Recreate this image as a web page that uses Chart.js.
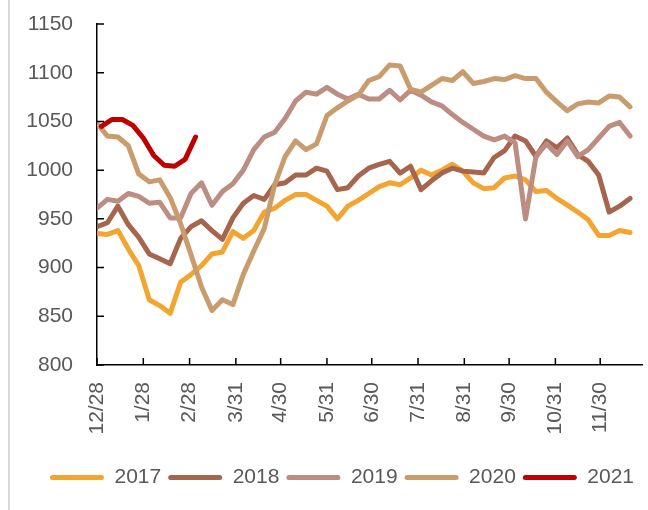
<!DOCTYPE html>
<html>
<head>
<meta charset="utf-8">
<script src="https://cdn.jsdelivr.net/npm/chart.js@4.4.1/dist/chart.umd.min.js"></script>
<style>
  html, body { margin: 0; padding: 0; background: #fff; }
  #wrap { position: relative; width: 648px; height: 510px; }
  #edge { position: absolute; left: 8px; top: 0; width: 2px; height: 510px; background: #d9d9d9; }
  canvas { position: absolute; left: 0; top: 0; }
</style>
</head>
<body>
<div id="wrap"><div id="edge"></div><canvas id="c" width="648" height="510"></canvas></div>
<script>
const years  = ["2017", "2018", "2019", "2020", "2021"];
const colors = ["#f2a530", "#a6654d", "#bc8d82", "#c99c6e", "#c00000"];
// first day of each year's weekly series, counted from 12/28
const startDay = [0, 0, 0, 0, 3];

// x axis: days from 12/28 and their labels
const tickDays   = [0, 31, 62, 93, 123, 154, 184, 215, 246, 276, 307, 337];
const tickLabels = ["12/28", "1/28", "2/28", "3/31", "4/30", "5/31", "6/30", "7/31", "8/31", "9/30", "10/31", "11/30"];

const s2017 = [935, 934, 938, 919, 902, 867, 861, 853, 885, 893,
               902, 914, 916, 937, 930, 938, 957, 961, 969, 975,
               975, 969, 963, 950, 963, 969, 976, 983, 987, 985,
               992, 1000, 995, 1000, 1006, 999, 987, 981, 982, 992,
               994, 990, 978, 979, 971, 964, 957, 949, 933, 933,
               938, 936];
const s2018 = [942, 946, 963, 944, 931, 914, 909, 904, 930, 942,
               948, 938, 929, 951, 966, 974, 970, 985, 987, 995,
               995, 1002, 999, 980, 982, 994, 1002, 1006, 1009, 997,
               1004, 980, 989, 997, 1002, 999, 998, 997, 1013, 1020,
               1035, 1030, 1014, 1030, 1023, 1033, 1016, 1009, 995, 957,
               963, 971];
const s2019 = [961, 970, 968, 976, 973, 966, 967, 951, 951, 976,
               987, 964, 978, 986, 1000, 1021, 1034, 1039, 1053, 1071,
               1080, 1078, 1085, 1078, 1073, 1078, 1073, 1073, 1082, 1072,
               1082, 1077, 1070, 1066, 1057, 1049, 1042, 1035, 1031, 1035,
               1028, 950, 1014, 1027, 1016, 1030, 1014, 1021, 1033, 1045,
               1049, 1035];
const s2020 = [1048, 1035, 1034, 1025, 996, 988, 990, 972, 945, 913,
               880, 856, 867, 862, 893, 917, 940, 985, 1014, 1030,
               1021, 1027, 1056, 1064, 1071, 1077, 1092, 1096, 1108, 1107,
               1083, 1080, 1087, 1094, 1092, 1101, 1089, 1091, 1094, 1093,
               1097, 1094, 1094, 1080, 1070, 1061, 1068, 1070, 1069, 1076,
               1075, 1065];
const s2021 = [1045, 1052, 1052, 1046, 1033, 1015, 1005, 1004, 1011, 1034];

const series = [s2017, s2018, s2019, s2020, s2021];

Chart.defaults.font.family = "'Liberation Sans', Arial, sans-serif";
Chart.defaults.font.size = 21;
Chart.defaults.color = "#595959";

// Excel-style tick marks pointing into the plot
const innerTicks = {
  id: "innerTicks",
  afterDraw(chart) {
    const { ctx, chartArea: a, scales: { x, y } } = chart;
    ctx.save();
    ctx.strokeStyle = "#000";
    ctx.lineWidth = 1.5;
    ctx.beginPath();
    tickDays.forEach(d => {
      const px = x.getPixelForValue(d);
      ctx.moveTo(px, a.bottom);
      ctx.lineTo(px, a.bottom - 7);
    });
    y.ticks.forEach(t => {
      const py = y.getPixelForValue(t.value);
      ctx.moveTo(a.left, py);
      ctx.lineTo(a.left + 7, py);
    });
    ctx.stroke();
    ctx.restore();
  }
};

// legend in the reference sits a bit right of the canvas centre
const shiftLegend = {
  id: "shiftLegend",
  afterLayout(chart) {
    chart.legend.left += 10;
    chart.legend.right += 10;
  }
};

new Chart(document.getElementById("c"), {
  type: "line",
  data: {
    datasets: years.map((yr, k) => ({
      label: yr,
      data: series[k].map((v, i) => ({ x: startDay[k] + i * 7, y: v })),
      borderColor: colors[k],
      backgroundColor: colors[k],
      borderWidth: 5,
      borderJoinStyle: "round",
      borderCapStyle: "round",
      pointRadius: 0,
      tension: 0,
      order: years.length - k
    }))
  },
  options: {
    responsive: false,
    animation: false,
    layout: { padding: { left: 22, right: 6, top: 24, bottom: 12 } },
    plugins: {
      tooltip: { enabled: false },
      legend: {
        position: "bottom",
        labels: {
          boxWidth: 54,
          boxHeight: 5,
          useBorderRadius: true,
          borderRadius: 2.5,
          padding: 7,
          sort: (a, b) => a.datasetIndex - b.datasetIndex,
          generateLabels(chart) {
            return Chart.defaults.plugins.legend.labels.generateLabels(chart)
              .map(l => ({ ...l, fillStyle: l.strokeStyle, lineWidth: 0 }));
          }
        }
      }
    },
    scales: {
      x: {
        type: "linear",
        min: 0,
        max: 365,
        grid: { display: false, drawTicks: false },
        border: { display: true, color: "#000", width: 1.5 },
        afterBuildTicks: s => { s.ticks = tickDays.map(v => ({ value: v })); },
        afterFit: s => { s.height = 95; },
        ticks: {
          autoSkip: false,
          minRotation: 90,
          maxRotation: 90,
          padding: 17,
          callback: (v, i) => tickLabels[i]
        }
      },
      y: {
        min: 800,
        max: 1150,
        grid: { display: false, drawTicks: false },
        border: { display: true, color: "#000", width: 1.5 },
        afterFit: s => { s.width = 75; s.paddingTop = 0; s.paddingBottom = 0; },
        ticks: { stepSize: 50, padding: 24, callback: v => String(v) }
      }
    }
  },
  plugins: [innerTicks, shiftLegend]
});
</script>
</body>
</html>
